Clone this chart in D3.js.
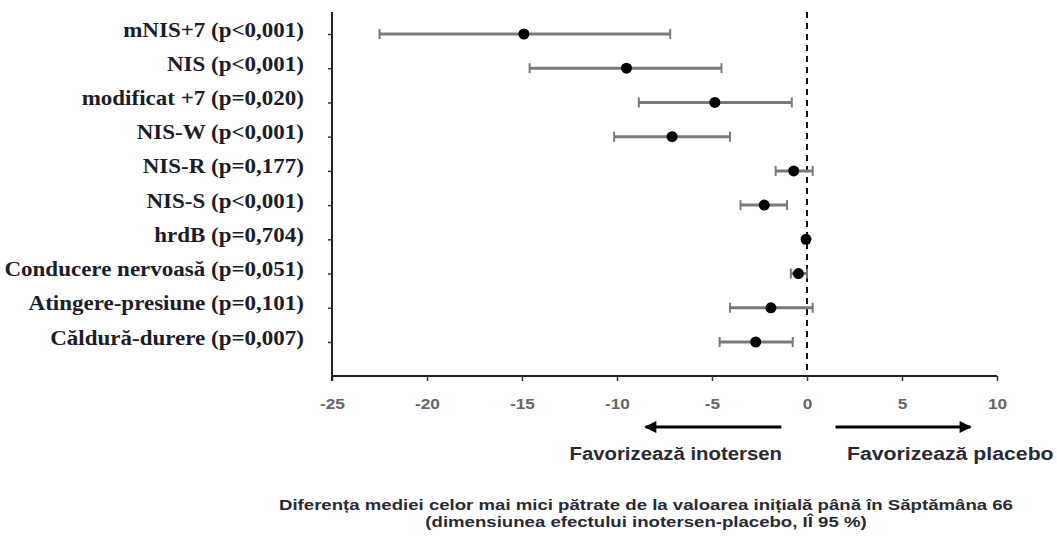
<!DOCTYPE html>
<html>
<head>
<meta charset="utf-8">
<script src="https://cdn.jsdelivr.net/npm/d3@7"></script>
<style>
  body { margin: 0; background: #fff; }
</style>
</head>
<body>
<script>
// outcomes, top to bottom
let labels = [
  'mNIS+7 (p<0,001)',
  'NIS (p<0,001)',
  'modificat +7 (p=0,020)',
  'NIS-W (p<0,001)',
  'NIS-R (p=0,177)',
  'NIS-S (p<0,001)',
  'hrdB (p=0,704)',
  'Conducere nervoasă (p=0,051)',
  'Atingere-presiune (p=0,101)',
  'Căldură-durere (p=0,007)'
]
let means = [-14.9, -9.5, -4.85, -7.1, -0.7, -2.25, -0.05, -0.45, -1.9, -2.7]
let lower = [-22.5, -14.6, -8.85, -10.15, -1.65, -3.5, -0.15, -0.85, -4.05, -4.6]
let upper = [-7.2, -4.5, -0.8, -4.05, 0.3, -1.05, 0.05, 0.0, 0.3, -0.75]
let xTicks = [-25, -20, -15, -10, -5, 0, 5, 10]

let data = labels.map((l, i) => ({ label: l, mean: means[i], lo: lower[i], hi: upper[i] }))

width = 1057
height = 539

let svg = d3.select('body')
  .append('svg')
  .attr('width', width)
  .attr('height', height)

let x = d3.scaleLinear()
  .domain([-25, 10])
  .range([332, 997])

let y = d3.scalePoint()
  .domain(labels)
  .range([34, 342])

let axisY = 376
let sans = 'Arial, "Liberation Sans", sans-serif'

// the source picture is stretched sideways, so widen text a bit
function stretch(sel, k) {
  sel.each(function () {
    let w = this.getComputedTextLength()
    d3.select(this).attr('textLength', w * k).attr('lengthAdjust', 'spacingAndGlyphs')
  })
}

// x axis
let xAxis = d3.axisBottom(x).tickValues(xTicks).tickFormat(d => String(d)).tickSize(5).tickPadding(17)
svg.append('g')
  .attr('transform', `translate(0, ${axisY})`)
  .call(xAxis)
  .call(g => g.select('.domain').attr('stroke', '#222').attr('stroke-width', 2).attr('d', `M${x(-25)},0H${x(10)}`))
  .call(g => g.selectAll('.tick line').attr('stroke', '#333').attr('stroke-width', 1.5))
  .call(g => g.selectAll('.tick text')
    .attr('fill', '#666')
    .attr('font-family', sans)
    .attr('font-weight', 'bold')
    .attr('font-size', 15)
    .call(stretch, 1.15))

// y axis
let yAxis = d3.axisLeft(y).tickSize(4).tickPadding(24)
svg.append('g')
  .attr('transform', `translate(${x(-25)}, 0)`)
  .call(yAxis)
  .call(g => g.select('.domain').attr('stroke', '#222').attr('stroke-width', 2).attr('d', `M0,12V${axisY + 5}`))
  .call(g => g.selectAll('.tick line').attr('stroke', '#333').attr('stroke-width', 1.5))
  .call(g => g.selectAll('.tick text')
    .attr('fill', '#1c1c2a')
    .attr('dy', '0.1em')
    .attr('font-family', '"Liberation Serif", "Times New Roman", serif')
    .attr('font-weight', 'bold')
    .attr('font-size', 20)
    .call(stretch, 1.15))

// zero line
svg.append('line')
  .attr('x1', x(0)).attr('x2', x(0))
  .attr('y1', 12).attr('y2', axisY)
  .attr('stroke', '#111')
  .attr('stroke-width', 2)
  .attr('stroke-dasharray', '6,5')

// error bars
let bars = svg.append('g')
bars.selectAll('line.ci')
  .data(data)
  .join('line')
    .attr('class', 'ci')
    .attr('x1', d => x(d.lo))
    .attr('x2', d => x(d.hi))
    .attr('y1', d => y(d.label))
    .attr('y2', d => y(d.label))
    .attr('stroke', '#7a7a7a')
    .attr('stroke-width', 3)
bars.selectAll('line.caplo')
  .data(data)
  .join('line')
    .attr('class', 'caplo')
    .attr('x1', d => x(d.lo)).attr('x2', d => x(d.lo))
    .attr('y1', d => y(d.label) - 5).attr('y2', d => y(d.label) + 5)
    .attr('stroke', '#7a7a7a')
    .attr('stroke-width', 2)
bars.selectAll('line.caphi')
  .data(data)
  .join('line')
    .attr('class', 'caphi')
    .attr('x1', d => x(d.hi)).attr('x2', d => x(d.hi))
    .attr('y1', d => y(d.label) - 5).attr('y2', d => y(d.label) + 5)
    .attr('stroke', '#7a7a7a')
    .attr('stroke-width', 2)

svg.selectAll('circle')
  .data(data)
  .join('circle')
    .attr('cx', d => x(d.mean))
    .attr('cy', d => y(d.label))
    .attr('r', 5.5)
    .attr('fill', '#000')

// arrows
svg.append('defs').append('marker')
  .attr('id', 'head')
  .attr('viewBox', '0 0 10 10')
  .attr('refX', 9).attr('refY', 5)
  .attr('markerWidth', 4.5).attr('markerHeight', 4)
  .attr('orient', 'auto')
  .append('path')
    .attr('d', 'M0,0L10,5L0,10z')
    .attr('fill', '#000')

let arrowY = 427
svg.append('line')
  .attr('x1', x(-1.35)).attr('x2', x(-8.5))
  .attr('y1', arrowY).attr('y2', arrowY)
  .attr('stroke', '#000').attr('stroke-width', 3)
  .attr('marker-end', 'url(#head)')
svg.append('line')
  .attr('x1', x(1.5)).attr('x2', x(8.6))
  .attr('y1', arrowY).attr('y2', arrowY)
  .attr('stroke', '#000').attr('stroke-width', 3)
  .attr('marker-end', 'url(#head)')

svg.append('text')
  .attr('x', 782).attr('y', 460)
  .attr('text-anchor', 'end')
  .attr('font-family', sans).attr('font-weight', 'bold').attr('font-size', 18)
  .attr('fill', '#2a2a36')
  .text('Favorizează inotersen')
  .call(stretch, 1.13)
svg.append('text')
  .attr('x', 847).attr('y', 460)
  .attr('font-family', sans).attr('font-weight', 'bold').attr('font-size', 18)
  .attr('fill', '#2a2a36')
  .text('Favorizează placebo')
  .call(stretch, 1.18)

// x axis title
svg.append('text')
  .attr('x', 646).attr('y', 510)
  .attr('text-anchor', 'middle')
  .attr('font-family', sans).attr('font-weight', 'bold').attr('font-size', 15)
  .attr('fill', '#2a2a36')
  .text('Diferența mediei celor mai mici pătrate de la valoarea inițială până în Săptămâna 66')
  .call(stretch, 1.24)
svg.append('text')
  .attr('x', 646).attr('y', 527)
  .attr('text-anchor', 'middle')
  .attr('font-family', sans).attr('font-weight', 'bold').attr('font-size', 15)
  .attr('fill', '#2a2a36')
  .text('(dimensiunea efectului inotersen-placebo, IÎ 95 %)')
  .call(stretch, 1.24)
</script>
</body>
</html>
